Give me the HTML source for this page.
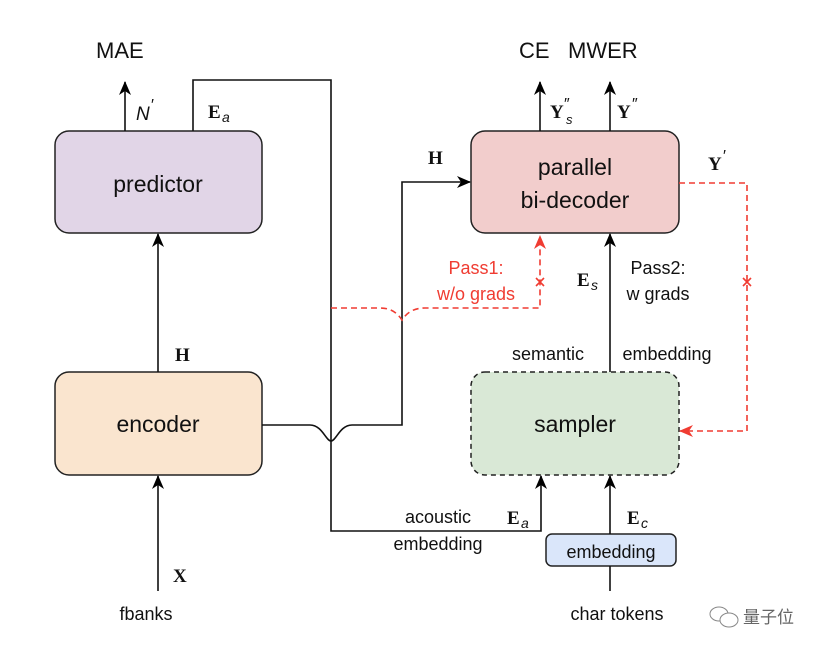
<!DOCTYPE html>
<html><head><meta charset="utf-8"><style>
html,body{margin:0;padding:0;background:#fff;}
svg{display:block;}
text{font-family:"Liberation Sans",sans-serif;}
.m{font-family:"Liberation Serif",serif;font-weight:bold;}
</style></head><body>
<svg width="831" height="656" viewBox="0 0 831 656" xmlns="http://www.w3.org/2000/svg">
<defs>
<marker id="a" markerWidth="14" markerHeight="14" refX="13" refY="7" orient="auto" markerUnits="userSpaceOnUse"><path d="M0,1 L14,7 L0,13 L4,7 z" fill="#000"/></marker>
<marker id="r" markerWidth="14" markerHeight="14" refX="13" refY="7" orient="auto" markerUnits="userSpaceOnUse"><path d="M0,1 L14,7 L0,13 L4,7 z" fill="#f03c32"/></marker>
</defs>
<rect x="55" y="131" width="207" height="102" rx="14" fill="#e1d5e7" stroke="#222" stroke-width="1.5"/>
<rect x="55" y="372" width="207" height="103" rx="14" fill="#fae5cf" stroke="#222" stroke-width="1.5"/>
<rect x="471" y="131" width="208" height="102" rx="14" fill="#f2cdcc" stroke="#222" stroke-width="1.5"/>
<rect x="471" y="372" width="208" height="103" rx="14" fill="#d9e8d6" stroke="#222" stroke-width="1.5" stroke-dasharray="5,4"/>
<rect x="546" y="534" width="130" height="32" rx="6" fill="#dae6fa" stroke="#222" stroke-width="1.5"/>
<g font-size="23" text-anchor="middle" fill="#111">
<text x="158" y="192">predictor</text>
<text x="158" y="432">encoder</text>
<text x="575" y="175">parallel</text>
<text x="575" y="208">bi-decoder</text>
<text x="575" y="432">sampler</text>
</g>
<text x="611" y="558" font-size="18" text-anchor="middle" fill="#111">embedding</text>
<g stroke="#111" stroke-width="1.6" fill="none">
<line x1="158" y1="591" x2="158" y2="476" marker-end="url(#a)"/>
<line x1="158" y1="372" x2="158" y2="234" marker-end="url(#a)"/>
<line x1="125" y1="131" x2="125" y2="82" marker-end="url(#a)"/>
<polyline points="193,131 193,80 331,80 331,531 541,531 541,476" marker-end="url(#a)"/>
<path d="M262,425 L310,425 C322,425 326,441 331,441 C336,441 340,425 352,425 L402,425 L402,182 L470,182" marker-end="url(#a)"/>
<line x1="540" y1="131" x2="540" y2="82" marker-end="url(#a)"/>
<line x1="610" y1="131" x2="610" y2="82" marker-end="url(#a)"/>
<line x1="610" y1="372" x2="610" y2="234" marker-end="url(#a)"/>
<line x1="610" y1="534" x2="610" y2="476" marker-end="url(#a)"/>
<line x1="610" y1="591" x2="610" y2="566"/>
</g>
<g stroke="#f03c32" stroke-width="1.6" fill="none" stroke-dasharray="6,4">
<path d="M331,308 L380,308 C392,308 398,314 402,320 C406,314 412,308 425,308 L540,308 L540,236" marker-end="url(#r)"/>
<path d="M679,183 L747,183 L747,431 L680,431" marker-end="url(#r)"/>
</g>
<g stroke="#f03c32" stroke-width="1.6">
<line x1="536" y1="278" x2="544" y2="286"/><line x1="544" y1="278" x2="536" y2="286"/>
<line x1="743" y1="278" x2="751" y2="286"/><line x1="751" y1="278" x2="743" y2="286"/>
</g>
<g font-size="22" fill="#111">
<text x="96" y="58">MAE</text>
<text x="519" y="58">CE</text>
<text x="568" y="58">MWER</text>
</g>
<g font-size="18" fill="#111">
<text x="146" y="620" text-anchor="middle">fbanks</text>
<text x="617" y="620" text-anchor="middle">char tokens</text>
<text x="548" y="360" text-anchor="middle">semantic</text>
<text x="667" y="360" text-anchor="middle">embedding</text>
<text x="438" y="523" text-anchor="middle">acoustic</text>
<text x="438" y="550" text-anchor="middle">embedding</text>
<text x="658" y="274" text-anchor="middle">Pass2:</text>
<text x="658" y="300" text-anchor="middle">w grads</text>
</g>
<g font-size="18" fill="#f03c32" text-anchor="middle">
<text x="476" y="274">Pass1:</text>
<text x="476" y="300">w/o grads</text>
</g>
<g font-size="19" fill="#111">
<text x="173" y="582" class="m">X</text>
<text x="175" y="361" class="m">H</text>
<text x="428" y="164" class="m">H</text>
<text x="136" y="120" font-family="Liberation Serif" font-style="italic">N</text><text x="151" y="110" font-size="16" font-family="Liberation Serif">′</text>
<text x="208" y="118" class="m">E</text><text x="222" y="122" font-size="14" font-family="Liberation Serif" font-style="italic">a</text>
<text x="507" y="524" class="m">E</text><text x="521" y="528" font-size="14" font-family="Liberation Serif" font-style="italic">a</text>
<text x="627" y="524" class="m">E</text><text x="641" y="528" font-size="14" font-family="Liberation Serif" font-style="italic">c</text>
<text x="577" y="286" class="m">E</text><text x="591" y="290" font-size="14" font-family="Liberation Serif" font-style="italic">s</text>
<text x="550" y="118" class="m">Y</text><text x="564" y="109" font-size="16" font-family="Liberation Serif">″</text><text x="566" y="124" font-size="13" font-family="Liberation Serif" font-style="italic">s</text>
<text x="617" y="118" class="m">Y</text><text x="632" y="109" font-size="16" font-family="Liberation Serif">″</text>
<text x="708" y="170" class="m">Y</text><text x="723" y="161" font-size="16" font-family="Liberation Serif">′</text>
</g>
<g stroke="#888" fill="none" stroke-width="1">
<ellipse cx="719" cy="614" rx="9" ry="7"/>
<ellipse cx="729" cy="620" rx="9" ry="7" fill="#fff"/>
</g>
<text x="743" y="623" font-size="17" fill="#666" font-family="'Noto Sans CJK SC',sans-serif">量子位</text>
</svg>
</body></html>
